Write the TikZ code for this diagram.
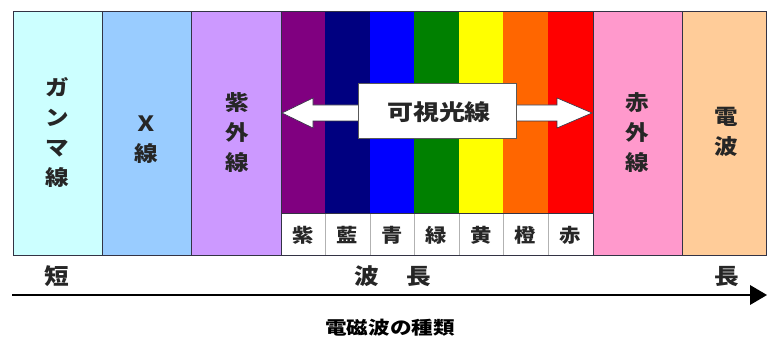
\documentclass[tikz,border=0pt]{standalone}
\usepackage{fontspec}
\setmainfont{Noto Sans CJK JP}
\definecolor{cgamma}{HTML}{CCFFFF}
\definecolor{cxray}{HTML}{99CCFF}
\definecolor{cuv}{HTML}{CC99FF}
\definecolor{cir}{HTML}{FF99CC}
\definecolor{cradio}{HTML}{FFCC99}
\definecolor{cv1}{HTML}{800080}
\definecolor{cv2}{HTML}{000080}
\definecolor{cv3}{HTML}{0000FF}
\definecolor{cv4}{HTML}{008000}
\definecolor{cv5}{HTML}{FFFF00}
\definecolor{cv6}{HTML}{FF6600}
\definecolor{cv7}{HTML}{FF0000}
\definecolor{edge}{HTML}{333344}
\begin{document}
\begin{tikzpicture}[x=1pt,y=1pt,
  collab/.style={font=\bfseries\fontsize{21}{30}\selectfont, align=center, inner sep=0pt, xscale=1.12, text=black!85},
  barlab/.style={font=\bfseries\fontsize{19}{19}\selectfont, inner sep=0pt, xscale=1.12, text=black!85},
  axlab/.style={font=\bfseries\fontsize{22}{22}\selectfont, inner sep=0pt, xscale=1.12, text=black!85},
  vislab/.style={font=\bfseries\fontsize{22}{22}\selectfont, inner sep=0pt, xscale=1.18, text=black!85},
  titlelab/.style={font=\bfseries\fontsize{18}{18}\selectfont, inner sep=0pt, xscale=1.2},
  cell/.style={draw=edge, line width=0.8pt}]
\useasboundingbox (0,0) rectangle (767,342);
\fill[white] (0,0) rectangle (767,342);
% big columns
\fill[cgamma] (13,87) rectangle (102,331);
\fill[cxray] (102,87) rectangle (191,331);
\fill[cuv] (191,87) rectangle (281,331);
\fill[cir] (593,87) rectangle (682,331);
\fill[cradio] (682,87) rectangle (766,331);
% visible bands
\fill[cv1] (281,129) rectangle (325,331);
\fill[cv2] (325,129) rectangle (370,331);
\fill[cv3] (370,129) rectangle (414,331);
\fill[cv4] (414,129) rectangle (459,331);
\fill[cv5] (459,129) rectangle (503,331);
\fill[cv6] (503,129) rectangle (548,331);
\fill[cv7] (548,129) rectangle (593,331);
% lower label row dividers
\foreach \xx in {325,370,414,459,503,548}
  \draw[gray!60, line width=0.6pt] (\xx,87) -- (\xx,129);
\draw[edge, line width=0.8pt] (281,129) -- (593,129);
% column borders
\draw[cell] (13,87) rectangle (766,331);
\foreach \xx in {102,191,281,593,682}
  \draw[cell] (\xx,87) -- (\xx,331);
% double arrow and box
\draw[draw=edge, fill=white, line width=0.6pt]
  (282,229) -- (313,244) -- (313,237) -- (557,237) -- (557,244) -- (592,229)
  -- (557,214) -- (557,221) -- (313,221) -- (313,214) -- cycle;
\node[draw=gray!70!black, fill=white, line width=0.8pt, minimum width=158pt, minimum height=55pt, inner sep=0pt] (vbox) at (437,231.5) {};
\node[vislab] (vis) at (439,230) {可視光線};
% column labels
\node[collab] (gamma) at (57,210) {ガ\\ン\\マ\\線};
\node[collab] (xray) at (146,202) {Ｘ\\線};
\node[collab] (uv) at (237,209) {紫\\外\\線};
\node[collab] (ir) at (637,209) {赤\\外\\線};
\node[collab] (radio) at (726,210) {電\\波};
% visible colour names
\node[barlab] (n1) at (303,107) {紫};
\node[barlab] (n2) at (347.5,107) {藍};
\node[barlab] (n3) at (392,107) {青};
\node[barlab] (n4) at (436.5,107) {緑};
\node[barlab] (n5) at (481,107) {黄};
\node[barlab] (n6) at (525.5,107) {橙};
\node[barlab] (n7) at (570.5,107) {赤};
% axis
\node[axlab] (short) at (57,66) {短};
\node[axlab] (wave) at (367,66) {波};
\node[axlab] (len) at (419,66) {長};
\node[axlab] (long) at (727,66) {長};
\coordinate (axs) at (12,47);
\coordinate (axe) at (751,47);
\draw[black, line width=2.5pt] (axs) -- (axe);
\fill[black] (750,57) -- (767,47) -- (750,37) -- cycle;
% title
\node[titlelab] (title) at (390,14) {電磁波の種類};
\end{tikzpicture}
\end{document}
